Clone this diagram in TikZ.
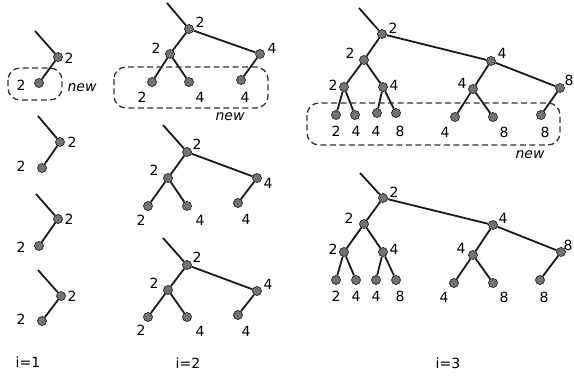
\documentclass[tikz,border=0pt]{standalone}
\usepackage{fontspec}
\setmainfont{DejaVu Sans}
\begin{document}
\begin{tikzpicture}[x=1pt,y=-1pt,
  vtx/.style={circle,draw=black!85,fill=black!55,line width=0.7pt,minimum size=9pt,inner sep=0pt},
  edge/.style={line width=1.8pt,black!90},
  num/.style={inner sep=0pt,font=\fontsize{14}{14}\selectfont},
  newtag/.style={inner sep=0pt,font=\fontsize{14}{14}\selectfont\itshape},
  newbox/.style={draw=black!80,line width=1.3pt,rounded corners=12pt,dash pattern=on 6pt off 3.5pt}]
\useasboundingbox (0,0) rectangle (574,377);

% ---------- column i=1 ----------
% tree a
\coordinate (a0) at (35,31);
\node[vtx] (a1) at (58,57) {};
\node[vtx] (a2) at (39,83) {};
\draw[edge] (a0) -- (a1) -- (a2);
\node[num] (la1) at (69,58) {2};
\node[num] (la2) at (21,85) {2};
\draw[newbox] (8,68) rectangle (62,100);
\node[newtag] (na) at (82,88) {new};
% tree b
\coordinate (b0) at (38,116);
\node[vtx] (b1) at (60,142) {};
\node[vtx] (b2) at (42,168) {};
\draw[edge] (b0) -- (b1) -- (b2);
\node[num] (lb1) at (72,142) {2};
\node[num] (lb2) at (21,166) {2};
% tree c
\coordinate (c0) at (36,194);
\node[vtx] (c1) at (58,219) {};
\node[vtx] (c2) at (39,246) {};
\draw[edge] (c0) -- (c1) -- (c2);
\node[num] (lc1) at (69,219) {2};
\node[num] (lc2) at (21,247) {2};
% tree d
\coordinate (d0) at (38,270);
\node[vtx] (d1) at (61,296) {};
\node[vtx] (d2) at (42,321) {};
\draw[edge] (d0) -- (d1) -- (d2);
\node[num] (ld1) at (72,296) {2};
\node[num] (ld2) at (21,319) {2};
\node[num] (i1) at (28,362) {i=1};

% ---------- column i=2 ----------
% tree e
\coordinate (e0) at (167,3);
\node[vtx] (e1) at (189,29) {};
\node[vtx] (e2) at (170,54) {};
\node[vtx] (e3) at (260,54) {};
\node[vtx] (e4) at (152,82) {};
\node[vtx] (e5) at (189,82) {};
\node[vtx] (e6) at (241,80) {};
\draw[edge] (e0) -- (e1) -- (e2) -- (e4);
\draw[edge] (e2) -- (e5);
\draw[edge] (e1) -- (e3) -- (e6);
\node[num] (le1) at (200,22) {2};
\node[num] (le2) at (156,48) {2};
\node[num] (le3) at (272,48) {4};
\node[num] (le4) at (142,97) {2};
\node[num] (le5) at (200,97) {4};
\node[num] (le6) at (245,97) {4};
\draw[newbox] (114,67) rectangle (268,108);
\node[newtag] (ne) at (230,117) {new};
% tree f
\coordinate (f0) at (163,125);
\node[vtx] (f1) at (187,152) {};
\node[vtx] (f2) at (168,178) {};
\node[vtx] (f3) at (257,178) {};
\node[vtx] (f4) at (148,206) {};
\node[vtx] (f5) at (187,206) {};
\node[vtx] (f6) at (238,203) {};
\draw[edge] (f0) -- (f1) -- (f2) -- (f4);
\draw[edge] (f2) -- (f5);
\draw[edge] (f1) -- (f3) -- (f6);
\node[num] (lf1) at (197,144) {2};
\node[num] (lf2) at (154,170) {2};
\node[num] (lf3) at (268,183) {4};
\node[num] (lf4) at (141,220) {2};
\node[num] (lf5) at (200,220) {4};
\node[num] (lf6) at (246,219) {4};
% tree g
\coordinate (g0) at (163,238);
\node[vtx] (g1) at (187,265) {};
\node[vtx] (g2) at (168,290) {};
\node[vtx] (g3) at (257,291) {};
\node[vtx] (g4) at (148,317) {};
\node[vtx] (g5) at (187,317) {};
\node[vtx] (g6) at (238,315) {};
\draw[edge] (g0) -- (g1) -- (g2) -- (g4);
\draw[edge] (g2) -- (g5);
\draw[edge] (g1) -- (g3) -- (g6);
\node[num] (lg1) at (197,257) {2};
\node[num] (lg2) at (154,283) {2};
\node[num] (lg3) at (268,284) {4};
\node[num] (lg4) at (141,330) {2};
\node[num] (lg5) at (200,331) {4};
\node[num] (lg6) at (246,331) {4};
\node[num] (i2) at (188,363) {i=2};

% ---------- column i=3 ----------
% tree h
\coordinate (h0) at (359,8);
\node[vtx] (h1) at (382,34) {};
\node[vtx] (h2) at (364,60) {};
\node[vtx] (h3) at (344,87) {};
\node[vtx] (h4) at (383,87) {};
\node[vtx] (h5) at (336,115) {};
\node[vtx] (h6) at (355,115) {};
\node[vtx] (h7) at (377,113) {};
\node[vtx] (h8) at (396,113) {};
\node[vtx] (h9) at (491,61) {};
\node[vtx] (h10) at (473,89) {};
\node[vtx] (h11) at (560,88) {};
\node[vtx] (h12) at (455,117) {};
\node[vtx] (h13) at (493,117) {};
\node[vtx] (h14) at (541,115) {};
\draw[edge] (h0) -- (h1) -- (h2) -- (h3) -- (h5);
\draw[edge] (h3) -- (h6);
\draw[edge] (h2) -- (h4) -- (h7);
\draw[edge] (h4) -- (h8);
\draw[edge] (h1) -- (h9) -- (h11) -- (h14);
\draw[edge] (h9) -- (h10) -- (h12);
\draw[edge] (h10) -- (h13);
\node[num] (lh1) at (393,28) {2};
\node[num] (lh2) at (350,53) {2};
\node[num] (lh3) at (333,85) {2};
\node[num] (lh4) at (394,85) {4};
\node[num] (lh5) at (336,131) {2};
\node[num] (lh6) at (356,131) {4};
\node[num] (lh7) at (376,131) {4};
\node[num] (lh8) at (400,131) {8};
\node[num] (lh9) at (502,53) {4};
\node[num] (lh10) at (462,83) {4};
\node[num] (lh11) at (569,80) {8};
\node[num] (lh12) at (445,132) {4};
\node[num] (lh13) at (504,132) {8};
\node[num] (lh14) at (545,132) {8};
\draw[newbox] (307,103) rectangle (560,145);
\node[newtag] (nh) at (530,155) {new};
% tree k
\coordinate (k0) at (360,173);
\node[vtx] (k1) at (383,198) {};
\node[vtx] (k2) at (364,224) {};
\node[vtx] (k3) at (344,252) {};
\node[vtx] (k4) at (383,252) {};
\node[vtx] (k5) at (336,280) {};
\node[vtx] (k6) at (356,280) {};
\node[vtx] (k7) at (376,280) {};
\node[vtx] (k8) at (396,280) {};
\node[vtx] (k9) at (493,225) {};
\node[vtx] (k10) at (473,255) {};
\node[vtx] (k11) at (561,252) {};
\node[vtx] (k12) at (454,283) {};
\node[vtx] (k13) at (493,283) {};
\node[vtx] (k14) at (540,280) {};
\draw[edge] (k0) -- (k1) -- (k2) -- (k3) -- (k5);
\draw[edge] (k3) -- (k6);
\draw[edge] (k2) -- (k4) -- (k7);
\draw[edge] (k4) -- (k8);
\draw[edge] (k1) -- (k9) -- (k11) -- (k14);
\draw[edge] (k9) -- (k10) -- (k12);
\draw[edge] (k10) -- (k13);
\node[num] (lk1) at (394,192) {2};
\node[num] (lk2) at (349,218) {2};
\node[num] (lk3) at (333,249) {2};
\node[num] (lk4) at (394,249) {4};
\node[num] (lk5) at (336,296) {2};
\node[num] (lk6) at (356,296) {4};
\node[num] (lk7) at (376,296) {4};
\node[num] (lk8) at (400,296) {8};
\node[num] (lk9) at (503,218) {4};
\node[num] (lk10) at (461,248) {4};
\node[num] (lk11) at (568,245) {8};
\node[num] (lk12) at (444,297) {4};
\node[num] (lk13) at (504,297) {8};
\node[num] (lk14) at (544,297) {8};
\node[num] (i3) at (448,363) {i=3};
\end{tikzpicture}
\end{document}
